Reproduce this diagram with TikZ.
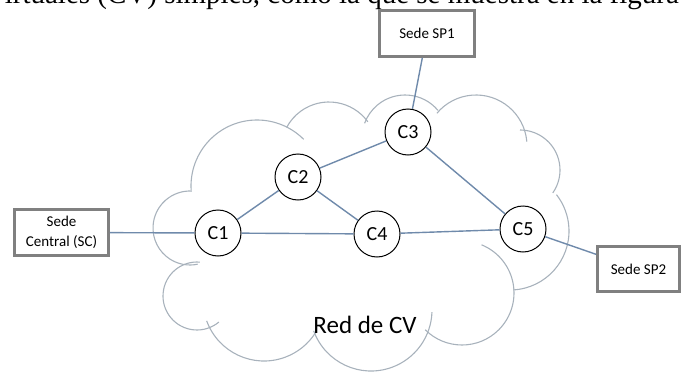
\documentclass[tikz,border=0pt]{standalone}
\usepackage{fontspec}
\setmainfont{Carlito}
\newfontfamily\introserif{Liberation Serif}
\definecolor{cloudc}{HTML}{A8B2BC}
\definecolor{edgec}{HTML}{6F8AAB}
\definecolor{boxc}{HTML}{808080}
\newcommand\cloudlobe[5]{\draw[cloudline] (#1,-#2) ++(#4:#3) arc[start angle=#4, end angle=#5, radius=#3];}
\begin{document}
\begin{tikzpicture}[x=1pt,y=1pt,
  cloudline/.style={draw=cloudc, line width=1.1pt},
  link/.style={draw=edgec, line width=1.4pt},
  cv/.style={circle, draw=black, line width=1pt, fill=white, minimum size=46pt, inner sep=0pt, font=\fontsize{20}{24}\selectfont},
  site/.style={rectangle, draw=boxc, line width=2.8pt, fill=white, align=center, inner sep=0pt, font=\fontsize{15}{20}\selectfont},
]
\useasboundingbox (0,0) rectangle (683,-372);
\clip (0,0) rectangle (683,-372);
% clipped line of running text at the top
\node[anchor=base west, inner sep=0pt, font=\introserif\fontsize{29}{34}\selectfont] (intro) at (-117,-3) {circuitos virtuales (CV) simples, como la que se muestra en la figura};
% cloud
\cloudlobe{190}{228}{37}{87}{282}
\cloudlobe{257}{186}{66}{45}{184}
\cloudlobe{329}{150}{48}{36}{152}
\cloudlobe{405}{138}{43}{40}{160}
\cloudlobe{476}{146}{51}{5}{140}
\cloudlobe{520}{170}{40}{-35}{90}
\cloudlobe{510}{231}{59}{-87}{38}
\cloudlobe{462}{293}{52}{225}{428}
\cloudlobe{371}{310}{61}{200}{358}
\cloudlobe{264}{300}{61}{200}{328}
\cloudlobe{197}{296}{34}{85}{310}
\node[font=\fontsize{25}{30}\selectfont] (red) at (365,-325) {Red de CV};
% nodes
\node[cv] (c1) at (218,-233) {C1};
\node[cv] (c2) at (298,-177) {C2};
\node[cv] (c3) at (408,-132) {C3};
\node[cv] (c4) at (377,-234) {C4};
\node[cv] (c5) at (523,-229) {C5};
\node[site, minimum width=94pt, minimum height=46pt] (sc) at (61.5,-232.5) {Sede\\Central (SC)};
\node[site, minimum width=95pt, minimum height=46pt] (sp1) at (427,-33.5) {Sede SP1};
\node[site, minimum width=82pt, minimum height=45pt] (sp2) at (638.5,-269) {Sede SP2};
% links
\draw[link] (sc) -- (c1);
\draw[link] (c1) -- (c2);
\draw[link] (c1) -- (c4);
\draw[link] (c2) -- (c3);
\draw[link] (c2) -- (c4);
\draw[link] (c3) -- (c5);
\draw[link] (c4) -- (c5);
\draw[link] (sp1) -- (c3);
\draw[link] (c5) -- (sp2);
\end{tikzpicture}
\end{document}
